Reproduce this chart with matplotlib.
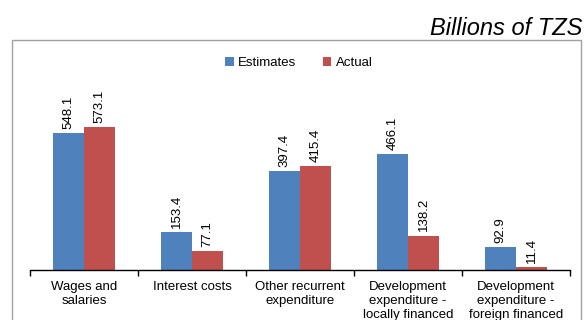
import numpy as np
import matplotlib.pyplot as plt
from matplotlib.patches import Rectangle

plt.rcParams['font.family'] = ['Liberation Sans', 'DejaVu Sans']

categorias = ["Wages and\nsalaries", "Interest costs", "Other recurrent\nexpenditure",
              "Development\nexpenditure -\nlocally financed",
              "Development\nexpenditure -\nforeign financed"]
estimates = [548.1, 153.4, 397.4, 466.1, 92.9]
actual = [573.1, 77.1, 415.4, 138.2, 11.4]

azul = "#4F81BD"
rojo = "#C0504D"

fig = plt.figure(figsize=(5.84, 3.2), dpi=100)

# marco gris del area del grafico
fig.patches.append(Rectangle((12 / 584, -0.1), 569 / 584, 1.1 - 40 / 320,
                             transform=fig.transFigure, fill=False,
                             edgecolor="#a0a0a0", linewidth=1))
fig.text(582 / 584, 1 - 35 / 320, "Billions of TZS", ha="right", va="baseline",
         fontsize=17, style="italic")

ax = fig.add_axes([30 / 584, 1 - 270 / 320, 540 / 584, 174.7 / 320])
x = np.arange(len(categorias))
ancho = 0.287
b1 = ax.bar(x - ancho / 2, estimates, ancho, color=azul, label="Estimates")
b2 = ax.bar(x + ancho / 2, actual, ancho, color=rojo, label="Actual")

for barras in (b1, b2):
    for b in barras:
        ax.annotate(f"{b.get_height():.1f}", (b.get_x() + b.get_width() / 2, b.get_height()),
                    xytext=(0, 3), textcoords="offset points", rotation=90,
                    ha="center", va="bottom", fontsize=9.5)

ax.set_xlim(-0.5, len(categorias) - 0.5)
ax.set_ylim(0, 700)
ax.set_yticks([])
ax.set_xticks(x)
ax.set_xticklabels(categorias, fontsize=9.5, linespacing=1.2, va="top")
ax.tick_params(axis="x", which="major", length=0, pad=8)
ax.set_xticks(np.arange(-0.5, len(categorias)), minor=True)
ax.tick_params(axis="x", which="minor", length=4, width=1, direction="out")
for lado in ("top", "right", "left"):
    ax.spines[lado].set_visible(False)
ax.spines["bottom"].set_linewidth(1)

ax.legend(loc="upper center", bbox_to_anchor=(299 / 584, 1 - 45 / 320), bbox_transform=fig.transFigure,
          ncol=2, frameon=False, fontsize=9.5, handlelength=0.65, handleheight=0.65,
          handletextpad=0.35, columnspacing=2.0)

plt.savefig("out.png", dpi=100)
